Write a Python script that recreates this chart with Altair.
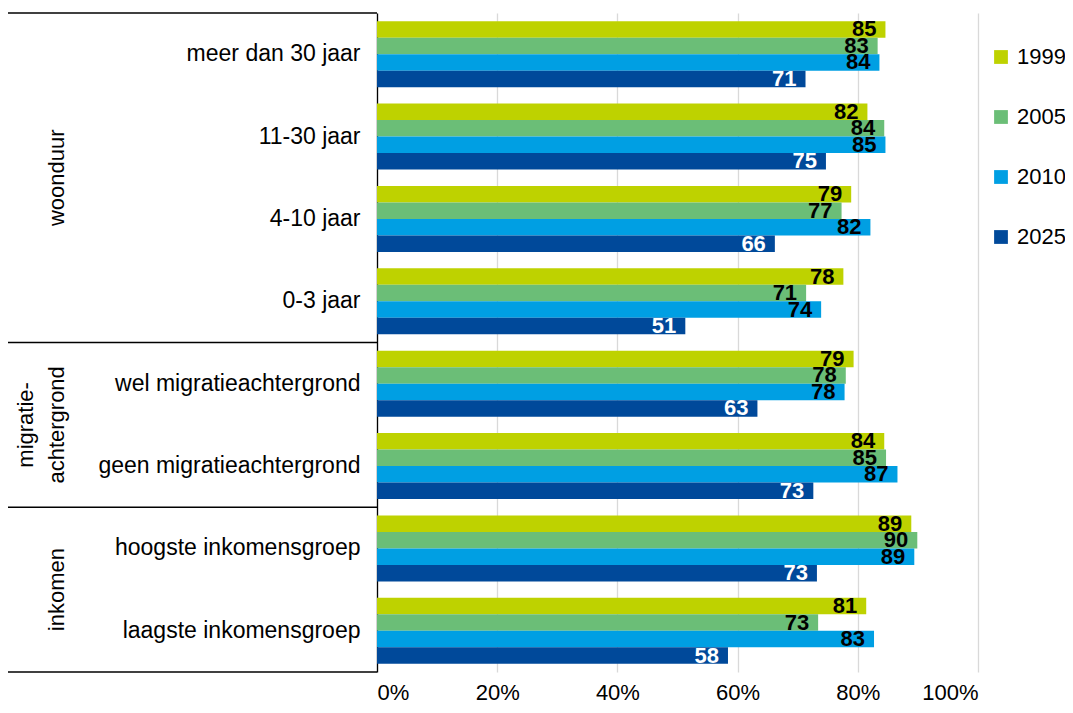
import altair as alt
import pandas as pd

categories = [
    "meer dan 30 jaar", "11-30 jaar", "4-10 jaar", "0-3 jaar",
    "wel migratieachtergrond", "geen migratieachtergrond",
    "hoogste inkomensgroep", "laagste inkomensgroep",
]
years = ["1999", "2005", "2010", "2025"]

# bar lengths (percent)
v1999 = [84.6, 81.6, 78.9, 77.6, 79.3, 84.4, 88.9, 81.4]
v2005 = [83.3, 84.4, 77.3, 71.4, 78.0, 84.7, 89.9, 73.4]
v2010 = [83.6, 84.6, 82.1, 73.9, 77.8, 86.6, 89.4, 82.7]
v2025 = [71.3, 74.7, 66.2, 51.3, 63.3, 72.6, 73.2, 58.4]

# printed labels
l1999 = [85, 82, 79, 78, 79, 84, 89, 81]
l2005 = [83, 84, 77, 71, 78, 85, 90, 73]
l2010 = [84, 85, 82, 74, 78, 87, 89, 83]
l2025 = [71, 75, 66, 51, 63, 73, 73, 58]

groups = ["woonduur", "migratie-\nachtergrond", "inkomen"]
group_sizes = [4, 2, 2]

colors = ["#BED200", "#6BBE77", "#009FE3", "#00499A"]
FONT = "Liberation Sans"

rows = []
for yr, vals, labs in zip(years, [v1999, v2005, v2010, v2025], [l1999, l2005, l2010, l2025]):
    for c, v, l in zip(categories, vals, labs):
        rows.append({"categorie": c, "jaar": yr, "waarde": v, "label": str(l)})
df = pd.DataFrame(rows)

bounds = [0]
for s in group_sizes:
    bounds.append(bounds[-1] + s)
sep_df = pd.DataFrame({"pos": bounds})
grp_df = pd.DataFrame({
    "groep": groups,
    "mid": [(bounds[i] + bounds[i + 1]) / 2 for i in range(len(groups))],
})

y_scale = alt.Scale(paddingInner=0.2, paddingOuter=0.1)
y_enc = alt.Y(
    "categorie:N", sort=categories, scale=y_scale,
    axis=alt.Axis(title=None, ticks=False, labelFontSize=23, labelColor="black",
                  labelPadding=17, domainColor="black", domainWidth=1.3,
                  labelLimit=400, labelFont=FONT),
)
yoff = alt.YOffset("jaar:N", sort=years, scale=alt.Scale(paddingInner=0, paddingOuter=0))
x_enc = alt.X(
    "waarde:Q", scale=alt.Scale(domain=[0, 100]),
    axis=alt.Axis(values=[0, 20, 40, 60, 80, 100], labelExpr="datum.value + '%'",
                  title=None, ticks=False, domain=False, grid=True,
                  gridColor="#d9d9d9", gridWidth=1.3, labelFontSize=22,
                  labelColor="black", labelPadding=10, labelFont=FONT),
)

bars = alt.Chart(df).mark_bar().encode(
    x=x_enc, y=y_enc, yOffset=yoff,
    color=alt.Color(
        "jaar:N", sort=years, scale=alt.Scale(domain=years, range=colors),
        legend=alt.Legend(title=None, orient="none", legendX=613, legendY=33,
                          symbolType="square", symbolSize=190, symbolStrokeWidth=0,
                          symbolOpacity=1, labelFontSize=22, labelFont=FONT,
                          labelColor="black", rowPadding=38, labelOffset=5,
                          direction="vertical"),
    ),
)

labels = alt.Chart(df).mark_text(
    align="right", baseline="middle", dx=-9, fontSize=22, fontWeight="bold", font=FONT
).encode(
    x="waarde:Q",
    y=alt.Y("categorie:N", sort=categories),
    yOffset=alt.YOffset("jaar:N", sort=years),
    text="label:N",
    color=alt.when(alt.datum.jaar == "2025").then(alt.value("white")).otherwise(alt.value("black")),
)

g_scale = alt.Scale(domain=[0, bounds[-1]], reverse=True, nice=False, zero=False)
seps = alt.Chart(sep_df).mark_rule(color="black", strokeWidth=1.3).encode(
    y=alt.Y("pos:Q", scale=g_scale, axis=None),
    x=alt.value(-369), x2=alt.value(0),
)
grp_text = dict(angle=270, fontSize=22, font=FONT, lineBreak="\n", lineHeight=31,
                baseline="bottom", align="center", color="black")
grp_single = alt.Chart(grp_df).transform_filter(
    "indexof(datum.groep, '\\n') < 0"
).mark_text(**grp_text).encode(
    y=alt.Y("mid:Q", scale=g_scale, axis=None),
    x=alt.value(-308),
    text="groep:N",
)
grp_multi = alt.Chart(grp_df).transform_filter(
    "indexof(datum.groep, '\\n') >= 0"
).mark_text(**grp_text).encode(
    y=alt.Y("mid:Q", scale=g_scale, axis=None),
    x=alt.value(-339),
    text="groep:N",
)

chart = alt.layer(
    alt.layer(bars, labels),
    alt.layer(seps, grp_single, grp_multi),
).resolve_scale(y="independent").properties(
    width=601, height=659,
    autosize=alt.AutoSizeParams(type="none"),
    padding={"left": 369, "top": 5, "right": 87, "bottom": 33},
).configure_view(strokeWidth=0)

chart.save("out.html", embed_options={"renderer": "svg", "actions": False})
